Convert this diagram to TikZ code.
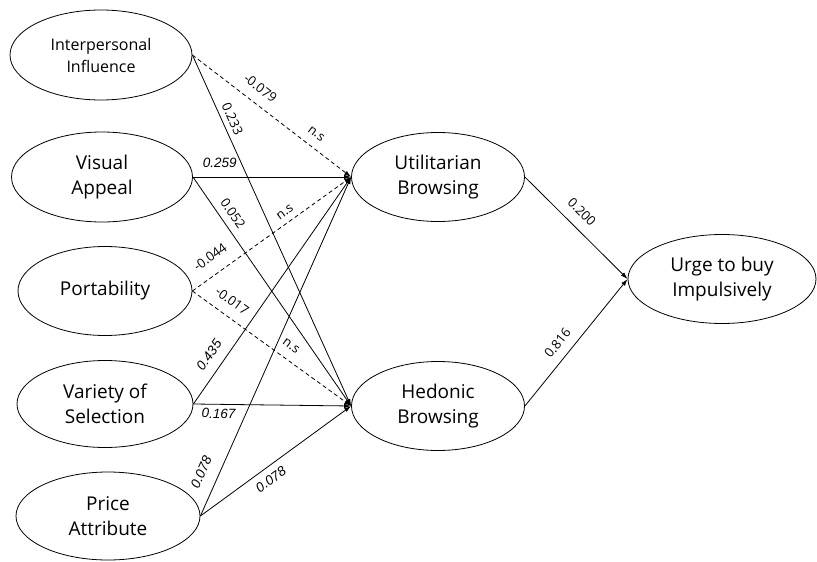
\documentclass[tikz,border=0pt]{standalone}
\usepackage{fontspec}
\setmainfont{Open Sans}
\newfontfamily\lblfont{Liberation Sans}
\usetikzlibrary{shapes.geometric,arrows.meta}
\begin{document}
\begin{tikzpicture}[x=1pt,y=-1pt,
  latent/.style={draw,ellipse,line width=0.8pt,inner sep=0pt,align=center,
    font=\fontsize{19}{25}\selectfont},
  path/.style={line width=0.8pt,-{Latex[length=7pt,width=4.5pt]}},
  ns/.style={path,dash pattern=on 4pt off 3pt},
  lbl/.style={sloped,inner sep=0pt,font=\fontsize{13}{13}\selectfont},
  ilbl/.style={sloped,inner sep=0pt,font=\lblfont\itshape\fontsize{13.5}{13.5}\selectfont}]
\useasboundingbox (0,0) rectangle (817,562);
\node[latent,minimum width=182,minimum height=90,font=\fontsize{16}{22}\selectfont] (ii) at (101,55) {Interpersonal\\Influence};
\node[latent,minimum width=181,minimum height=90] (va) at (102,177) {Visual\\Appeal};
\node[latent,minimum width=174,minimum height=89] (po) at (105,291) {Portability};
\node[latent,minimum width=176,minimum height=87] (vs) at (105,404) {Variety of\\Selection};
\node[latent,minimum width=184,minimum height=88] (pa) at (108,516) {Price\\Attribute};
\node[latent,minimum width=173,minimum height=89] (ub) at (438,177) {Utilitarian\\Browsing};
\node[latent,minimum width=173,minimum height=89] (hb) at (438,406) {Hedonic\\Browsing};
\node[latent,minimum width=188,minimum height=89] (ur) at (722,279) {Urge to buy\\Impulsively};

\draw[ns] (ii.east) -- node[lbl,pos=0.37,above=10] {-0.079} node[lbl,pos=0.73,above=9] {n.s} (ub.west);
\draw[path] (ii.east) -- node[lbl,pos=0.194,above=5] {0.233} (hb.west);
\draw[path] (va.east) -- node[ilbl,pos=0.17,above=9] {0.259} (ub.west);
\draw[path] (va.east) -- node[lbl,pos=0.19,above=7] {0.052} (hb.west);
\draw[ns] (po.east) -- node[lbl,pos=0.175,above=12] {-0.044} node[lbl,pos=0.62,above=6] {n.s} (ub.west);
\draw[ns] (po.east) -- node[lbl,pos=0.194,above=10] {-0.017} node[lbl,pos=0.572,above=9.5] {n.s} (hb.west);
\draw[path] (vs.east) -- node[ilbl,pos=0.178,above=10] {0.435} (ub.west);
\draw[path] (vs.east) -- node[ilbl,pos=0.16,below=4] {0.167} (hb.west);
\draw[path] (pa.east) -- node[ilbl,pos=0.109,above=12] {0.078} (ub.west);
\draw[path] (pa.east) -- node[ilbl,pos=0.42,below=7] {0.078} (hb.west);
\draw[path] (ub.east) -- node[lbl,pos=0.45,above=10] {0.200} (ur.west);
\draw[path] (hb.east) -- node[lbl,pos=0.425,above=9] {0.816} (ur.west);
\end{tikzpicture}
\end{document}
